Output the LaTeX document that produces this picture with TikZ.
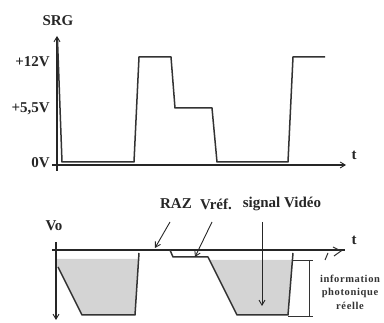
\documentclass[tikz,border=0pt]{standalone}
\usepackage{fontspec}
\setmainfont{Liberation Serif}
\newfontfamily\infofont[LetterSpace=6]{Liberation Serif}
\usetikzlibrary{arrows.meta}
\begin{document}
\begin{tikzpicture}[x=1pt,y=-1pt,
  ax/.style={line width=1.1pt, draw=black!85},
  wave/.style={line width=1.5pt, draw=black!80, line join=round},
  lbl/.style={font=\fontsize{15}{16}\selectfont\bfseries, inner sep=0pt, text=black!85},
  small/.style={font=\infofont\fontsize{10.5}{13.5}\selectfont\bfseries, inner sep=0pt, align=center, text=black!80},
  barb/.style={-{Straight Barb[length=5pt,width=6pt,line width=0.9pt]}},
  ptr/.style={line width=0.9pt, draw=black!85, -{Straight Barb[length=5pt,width=6pt]}},
  shade/.style={fill=black!17},
  dim/.style={line width=0.8pt, draw=black!80}]
\useasboundingbox (0,0) rectangle (384,323);
% ---------- top graph : SRG ----------
\coordinate (ytop0) at (57,171);
\coordinate (ytop1) at (57,36);
\coordinate (xtop0) at (52,165);
\coordinate (xtop1) at (346,165);
\draw[ax,barb] (ytop0) -- (ytop1);
\draw[ax,barb] (xtop0) -- (xtop1);
\draw[wave] (57.5,40) -- (62,162) -- (134,162) -- (139,57) -- (171,57) -- (175,108)
  -- (212,108) -- (217,162) -- (288,162) -- (293,57) -- (325,57);
\node[lbl] (srg) at (58,21) {SRG};
\node[lbl,anchor=east] (v12) at (50,62) {+12V};
\node[lbl,anchor=east] (v55) at (50,109) {+5,5V};
\node[lbl,anchor=east] (v0) at (50,163) {0V};
\node[lbl] (t1) at (354,155) {t};
% ---------- bottom graph : Vo ----------
\fill[shade] (57,259) -- (139,259) -- (135,315) -- (82,315) -- (58,267) -- (57,267) -- cycle;
\fill[shade] (209.5,260) -- (292.8,260) -- (288,315) -- (237,315) -- cycle;
\coordinate (xb0) at (52,250);
\coordinate (xb1) at (345,250);
\draw[ax] (xb0) -- (xb1);
\draw[line width=1pt, draw=black!80] (333,247) -- (341,251) -- (334,256);
\draw[line width=1pt, draw=black!80] (325,260) -- (328,253);
\coordinate (yb0) at (56,242);
\coordinate (yb1) at (56,320);
\draw[ax,barb] (yb0) -- (yb1);
\draw[wave] (58,267) -- (82,315) -- (135,315) -- (139,253);
\draw[wave] (170,250) -- (173,257) -- (208,257) -- (237,315) -- (288,315) -- (293,253);
\node[lbl] (vo) at (54,226) {Vo};
\node[lbl] (t2) at (354,240) {t};
\node[lbl] (raz) at (176,204) {RAZ};
\node[lbl] (vref) at (216,204) {Vréf.};
\node[lbl] (sig) at (282,204) {signal Vidéo};
\coordinate (razend) at (155,248);
\coordinate (vrefend) at (195,257);
\coordinate (sigend) at (262,306);
\draw[ptr] (170,222) -- (razend);
\draw[ptr] (212,222) -- (vrefend);
\draw[ptr] (262,222) -- (sigend);
% dimension
\coordinate (d0) at (309,260);
\coordinate (d1) at (309,316);
\draw[dim] (293,260) -- (313,260);
\draw[dim] (288,316) -- (313,316);
\draw[dim] (d0) -- (d1);
\node[small] (info) at (350,292) {information\\photonique\\réelle};
\end{tikzpicture}
\end{document}
